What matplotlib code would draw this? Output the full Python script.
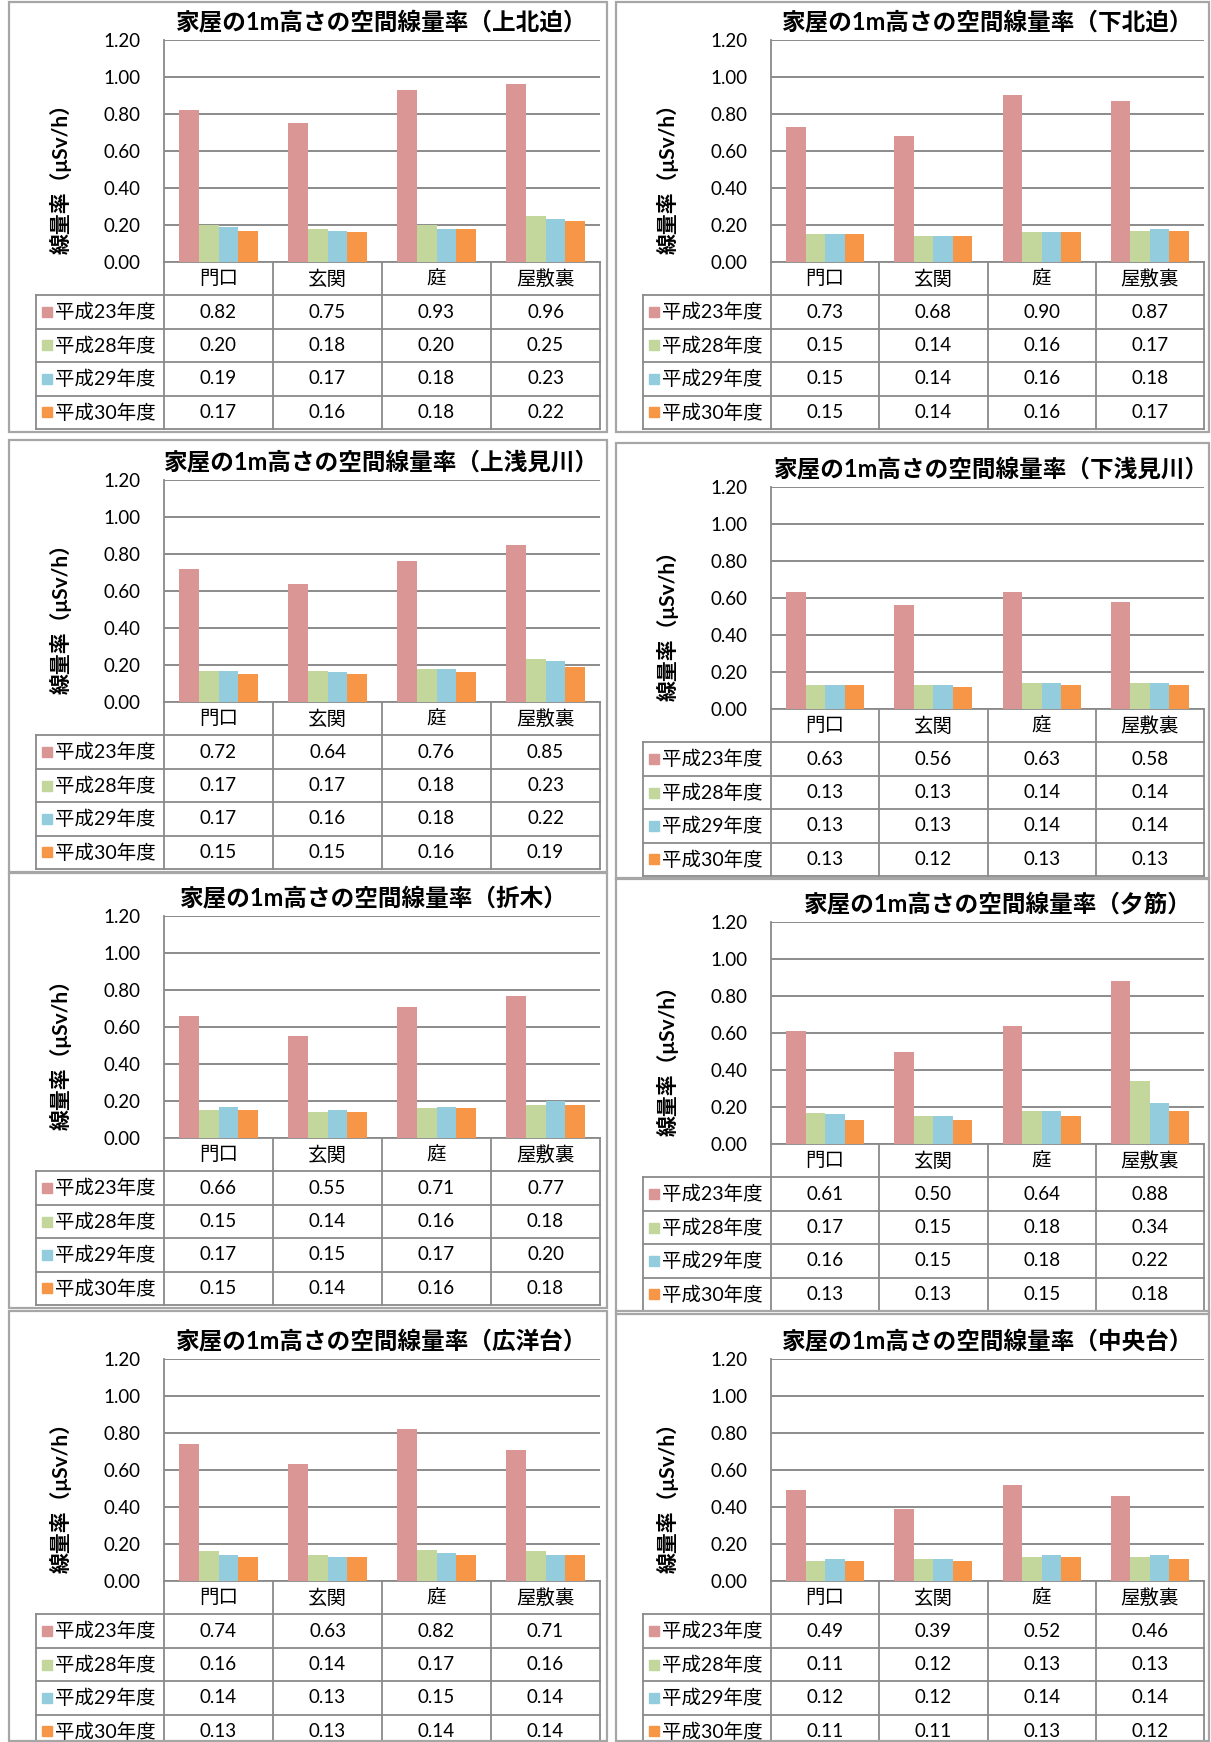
import matplotlib
matplotlib.use('Agg')
import matplotlib.pyplot as plt
from matplotlib.patches import Rectangle

plt.rcParams['font.family'] = ['Lato', 'Noto Sans CJK JP', 'DejaVu Sans']

# ---------------- data ----------------
categories = ['門口', '玄関', '庭', '屋敷裏']
series_names = ['平成23年度', '平成28年度', '平成29年度', '平成30年度']
series_colors = ['#D99694', '#C3D69B', '#93CDDD', '#F79646']
yticks = [0.0, 0.2, 0.4, 0.6, 0.8, 1.0, 1.2]
ylabel = '線量率（μSv/h）'
title_fmt = '家屋の1m高さの空間線量率（{}）'

locations = ['上北迫', '下北迫', '上浅見川', '下浅見川', '折木', '夕筋', '広洋台', '中央台']

kamikitaba = [[0.82, 0.75, 0.93, 0.96],
              [0.20, 0.18, 0.20, 0.25],
              [0.19, 0.17, 0.18, 0.23],
              [0.17, 0.16, 0.18, 0.22]]
shimokitaba = [[0.73, 0.68, 0.90, 0.87],
               [0.15, 0.14, 0.16, 0.17],
               [0.15, 0.14, 0.16, 0.18],
               [0.15, 0.14, 0.16, 0.17]]
kamiasamigawa = [[0.72, 0.64, 0.76, 0.85],
                 [0.17, 0.17, 0.18, 0.23],
                 [0.17, 0.16, 0.18, 0.22],
                 [0.15, 0.15, 0.16, 0.19]]
shimoasamigawa = [[0.63, 0.56, 0.63, 0.58],
                  [0.13, 0.13, 0.14, 0.14],
                  [0.13, 0.13, 0.14, 0.14],
                  [0.13, 0.12, 0.13, 0.13]]
oriki = [[0.66, 0.55, 0.71, 0.77],
         [0.15, 0.14, 0.16, 0.18],
         [0.17, 0.15, 0.17, 0.20],
         [0.15, 0.14, 0.16, 0.18]]
yusuji = [[0.61, 0.50, 0.64, 0.88],
          [0.17, 0.15, 0.18, 0.34],
          [0.16, 0.15, 0.18, 0.22],
          [0.13, 0.13, 0.15, 0.18]]
koyodai = [[0.74, 0.63, 0.82, 0.71],
           [0.16, 0.14, 0.17, 0.16],
           [0.14, 0.13, 0.15, 0.14],
           [0.13, 0.13, 0.14, 0.14]]
chuodai = [[0.49, 0.39, 0.52, 0.46],
           [0.11, 0.12, 0.13, 0.13],
           [0.12, 0.12, 0.14, 0.14],
           [0.11, 0.11, 0.13, 0.12]]

panel_data = [kamikitaba, shimokitaba, kamiasamigawa, shimoasamigawa,
              oriki, yusuji, koyodai, chuodai]

# ---------------- layout (pixels, top-left origin) ----------------
W, H = 1211, 1742
fig = plt.figure(figsize=(W / 100, H / 100), dpi=100)
fig.patch.set_facecolor('white')

cols = [dict(x0=9, x1=607, lx=36, pl=164, pr=600),
        dict(x0=616, x1=1209, lx=643, pl=771, pr=1204)]
# (panel top, plot top, title x shift) per panel
rows = [(2, 40, 0), (2, 40, 0),
        (440, 480, 0), (443, 487, 4),
        (873, 916, -8), (878, 922, 10),
        (1311, 1359, 0), (1311, 1359, 0)]
PLOT_H = 222
ROW_H = 33.4
GRID_C = '#828282'
LINE_C = '#8a8a8a'
BORDER_C = '#a6a6a6'


def fx(x):
    return x / W


def fy(y):
    return 1 - y / H


for k, loc in enumerate(locations):
    c = cols[k % 2]
    y0, pt, tdx = rows[k]
    pb = pt + PLOT_H
    tb = pb + 5 * ROW_H
    y1 = min(tb + 3, H - 1)
    pl, pr, lx = c['pl'], c['pr'], c['lx']
    vals = panel_data[k]

    # panel border
    fig.add_artist(Rectangle((fx(c['x0']), fy(y1)), (c['x1'] - c['x0']) / W, (y1 - y0) / H,
                             transform=fig.transFigure, fill=False, ec=BORDER_C, lw=1.6))

    # bar chart axes
    ax = fig.add_axes([fx(pl), fy(pb), (pr - pl) / W, PLOT_H / H])
    ax.set_xlim(-0.5, 3.5)
    ax.set_ylim(0, 1.2)
    bw = 0.18
    for s in range(4):
        xs = [i + (s - 1.5) * bw for i in range(4)]
        ax.bar(xs, vals[s], width=bw, color=series_colors[s], zorder=3, linewidth=0)
    ax.set_yticks(yticks)
    ax.set_yticklabels(['%.2f' % t for t in yticks], fontsize=13.5)
    ax.tick_params(axis='y', length=0, pad=17)
    ax.set_xticks([])
    ax.grid(axis='y', color=GRID_C, lw=1.3, zorder=0)
    for sp in ['top', 'right']:
        ax.spines[sp].set_visible(False)
    ax.spines['left'].set_color(LINE_C)
    ax.spines['left'].set_linewidth(1.3)
    ax.spines['bottom'].set_color(LINE_C)
    ax.spines['bottom'].set_linewidth(1.3)
    ax.patch.set_alpha(0)

    # title & y label
    fig.text(fx((pl + pr) / 2 + tdx), fy(pt - 18), title_fmt.format(loc),
             ha='center', va='center', fontsize=17, fontweight='bold')
    fig.text(fx(pl - 103), fy(pb - 0.40 * PLOT_H), ylabel, rotation=90,
             ha='center', va='center', fontsize=15, fontweight='bold')

    # data table axes
    legw = (pl - lx) / (pr - pl) * 4
    upx = 4 / (pr - pl)  # data units per pixel
    tab = fig.add_axes([fx(lx), fy(tb), (pr - lx) / W, (tb - pb) / H])
    tab.set_xlim(-0.5 - legw, 3.5)
    tab.set_ylim(5, 0)
    tab.axis('off')
    xl = -0.5 - legw
    for r in range(1, 6):
        tab.plot([xl, 3.5], [r, r], color=LINE_C, lw=1.3, clip_on=False)
    for xv in [-0.5, 0.5, 1.5, 2.5, 3.5]:
        tab.plot([xv, xv], [0, 5], color=LINE_C, lw=1.3, clip_on=False)
    tab.plot([xl, xl], [1, 5], color=LINE_C, lw=1.3, clip_on=False)

    for i, cat in enumerate(categories):
        tab.text(i, 0.5, cat, ha='center', va='center', fontsize=14)
    for s in range(4):
        yr = s + 1.5
        tab.plot([xl + 11 * upx], [yr], marker='s', ms=7, color=series_colors[s],
                 clip_on=False, lw=0)
        tab.text(xl + 19 * upx, yr, series_names[s], ha='left', va='center', fontsize=14)
        for i in range(4):
            tab.text(i, yr, '%.2f' % vals[s][i], ha='center', va='center', fontsize=13.5)

fig.savefig('out.png', dpi=100, facecolor='white')
